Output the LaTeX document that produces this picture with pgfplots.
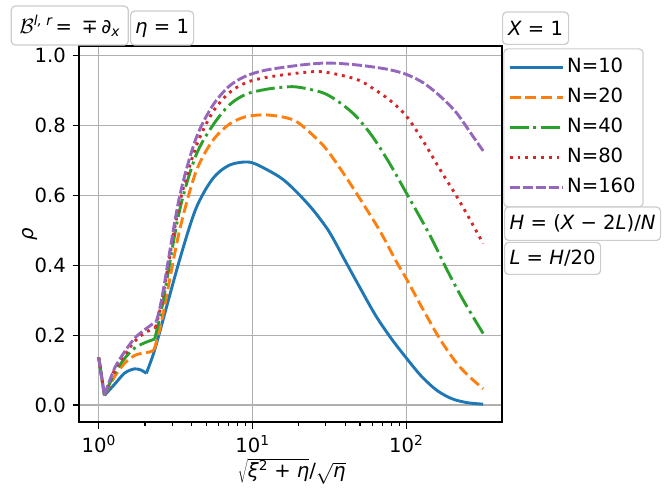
\documentclass[border=0pt]{standalone}
\usepackage{fontspec}
\setmainfont{DejaVu Sans}
\usepackage{pgfplots}
\pgfplotsset{compat=1.18}
\definecolor{c1}{HTML}{1F77B4}
\definecolor{c2}{HTML}{FF7F0E}
\definecolor{c3}{HTML}{2CA02C}
\definecolor{c4}{HTML}{D62728}
\definecolor{c5}{HTML}{9467BD}
\definecolor{gridc}{HTML}{B0B0B0}
\definecolor{boxc}{HTML}{CCCCCC}
\tikzset{tbox/.style={draw=boxc, line width=1.2pt, rounded corners=4pt, fill=white, fill opacity=0.8, text opacity=1, inner sep=0pt, anchor=south west}}
\pgfplotsset{
  s1/.style={c1, line width=2.9pt},
  s2/.style={c2, line width=2.9pt, dash pattern=on 10.9pt off 4.7pt},
  s3/.style={c3, line width=2.9pt, dash pattern=on 18.8pt off 4.7pt on 2.9pt off 4.7pt},
  s4/.style={c4, line width=2.9pt, dash pattern=on 2.9pt off 4.9pt},
  s5/.style={c5, line width=2.9pt, dash pattern=on 10pt off 3pt},
}
\begin{document}
\fontsize{19.6}{23.5}\selectfont
\begin{tikzpicture}
\path[use as bounding box] (-79pt,-76pt) rectangle (591pt,422pt);
\begin{axis}[
  at={(0pt,0pt)}, anchor=south west,
  width=423pt, height=376pt, scale only axis,
  xmode=log, xmin=0.745, xmax=419, ymin=-0.048, ymax=1.027,
  xtick={1,10,100},
  xticklabels={10\textsuperscript{0},10\textsuperscript{1},10\textsuperscript{2}},
  xticklabel style={inner sep=0pt, text depth=0pt, yshift=-6.5pt},
  ytick={0,0.2,0.4,0.6,0.8,1},
  yticklabel style={/pgf/number format/.cd, fixed, fixed zerofill, precision=1, assume math mode=true},
  tick align=outside, tick pos=left,
  major tick length=6.5pt, minor tick length=3.9pt,
  every tick/.style={black, line width=1.5pt},
  minor tick style={line width=1.1pt},
  grid=major, major grid style={gridc, line width=1.5pt},
  axis line style={line width=1.5pt},
  xlabel={$\sqrt{\mbox{\itshape ξ\textsuperscript{\upshape 2}\upshape{} + \itshape η}}$/$\sqrt{\mbox{\itshape η}}$},
  xlabel style={at={(axis description cs:0.503,-0.131)}, anchor=center, inner sep=0pt},
  ylabel={\itshape ρ},
  ylabel style={at={(axis description cs:-0.116,0.5)}, anchor=center},
  legend style={at={(1.003,0.994)}, anchor=north west, draw=boxc, line width=1.2pt, rounded corners=4pt,
    fill=white, inner xsep=4.4pt, inner ysep=7pt, row sep=6pt,
    nodes={inner sep=3pt, text height=14pt, text depth=4pt}},
  legend cell align=left,
  legend image code/.code={\draw[#1] (0pt,0pt) -- (43pt,0pt); \path (0pt,0pt) -- (53pt,0pt);},
]
% N=10
\addplot[s1, forget plot] coordinates {(1,0.137) (1.09,0.028)};
\addplot[s1, smooth, forget plot] coordinates {
(1.09,0.028) (1.27,0.060) (1.476,0.092) (1.71,0.104) (1.9,0.100) (2.04,0.091)};
\addplot[s1, smooth] coordinates {
(2.04,0.091) (2.26,0.144) (2.49,0.208) (3.33,0.41) (4.27,0.56) (5.48,0.646) (7.05,0.686)
(9.55,0.695) (12.59,0.672) (15.85,0.645) (19.95,0.604) (25.12,0.555) (31.62,0.495)
(39.81,0.415) (50.12,0.335) (63.1,0.257) (79.43,0.192) (100,0.135) (125.9,0.082)
(158.5,0.042) (199.5,0.018) (251.2,0.007) (316,0.003)};
\addlegendentry{N=10}
% N=20
\addplot[s2, forget plot] coordinates {(1,0.137) (1.09,0.029)};
\addplot[s2, smooth, forget plot] coordinates {
(1.09,0.029) (1.27,0.082) (1.476,0.12) (1.71,0.142) (1.98,0.150) (2.15,0.152) (2.29,0.158)};
\addplot[s2, smooth] coordinates {
(2.29,0.158) (2.59,0.249) (3.33,0.493) (4.27,0.665) (5.48,0.755) (7.05,0.803) (9.06,0.825) (12.2,0.83)
(16.5,0.822) (20.1,0.806) (28.8,0.743) (37,0.678) (47.4,0.606) (67,0.500) (86,0.411)
(100,0.362) (128,0.275) (165,0.190) (211,0.122) (258,0.081) (316,0.047)};
\addlegendentry{N=20}
% N=40
\addplot[s3, forget plot] coordinates {(1,0.137) (1.09,0.029)};
\addplot[s3, smooth, forget plot] coordinates {
(1.09,0.029) (1.27,0.091) (1.476,0.134) (1.71,0.163) (1.98,0.178) (2.31,0.189)};
\addplot[s3, smooth] coordinates {
(2.31,0.189) (2.59,0.284) (3.33,0.55) (4.27,0.712) (5.48,0.798) (7.05,0.858) (9.06,0.889) (12.2,0.903)
(16.5,0.91) (20.1,0.909) (28.8,0.893) (37,0.865) (47.4,0.825) (61,0.765) (78.2,0.690) (100,0.607)
(142,0.487) (182,0.391) (234,0.301) (316,0.205)};
\addlegendentry{N=40}
% N=80
\addplot[s4, forget plot] coordinates {(1,0.137) (1.09,0.029)};
\addplot[s4, smooth, forget plot] coordinates {
(1.09,0.029) (1.27,0.101) (1.476,0.144) (1.71,0.182) (1.98,0.206) (2.34,0.222)};
\addplot[s4, smooth] coordinates {
(2.34,0.222) (2.59,0.303) (3.33,0.57) (4.27,0.736) (5.48,0.836) (7.05,0.893) (9.06,0.922) (12.2,0.937)
(20.1,0.95) (28.8,0.953) (47.4,0.932) (61,0.905) (78.2,0.872) (100,0.827)
(128.8,0.755) (165.6,0.674) (212,0.598) (260,0.53) (316,0.462)};
\addlegendentry{N=80}
% N=160
\addplot[s5, forget plot] coordinates {(1,0.137) (1.09,0.029)};
\addplot[s5, smooth, forget plot] coordinates {
(1.09,0.029) (1.27,0.106) (1.476,0.153) (1.71,0.191) (1.98,0.215) (2.37,0.240)};
\addplot[s5, smooth] coordinates {
(2.37,0.240) (2.59,0.312) (3.33,0.589) (4.27,0.76) (5.48,0.855) (7.05,0.912) (9.06,0.941) (12.2,0.958)
(20.1,0.972) (28.8,0.978) (37,0.977) (47.4,0.973) (61,0.967) (78.2,0.959) (100,0.946)
(128.8,0.922) (165.6,0.884) (212,0.836) (270,0.77) (316,0.727)};
\addlegendentry{N=160}
\end{axis}
\node[tbox, minimum width=117pt, minimum height=39pt] at (-68.3pt,376.3pt)
  {$\mathcal{B}$\textsuperscript{\itshape l, r}\,= \,∓\,∂\textsubscript{\itshape x}};
\node[tbox, minimum width=63pt, minimum height=34pt] at (51pt,376.3pt) {{\itshape η} = 1};
\node[tbox, minimum width=66pt, minimum height=32.3pt] at (423pt,377pt) {{\itshape X} = 1};
\node[tbox, minimum width=156pt, minimum height=33.3pt] at (425pt,181pt)
  {{\itshape H} = ({\itshape X} − 2{\itshape L})/{\itshape N}};
\node[tbox, minimum width=96pt, minimum height=32pt] at (425pt,147pt) {{\itshape L} = {\itshape H}/20};
\end{tikzpicture}
\end{document}
